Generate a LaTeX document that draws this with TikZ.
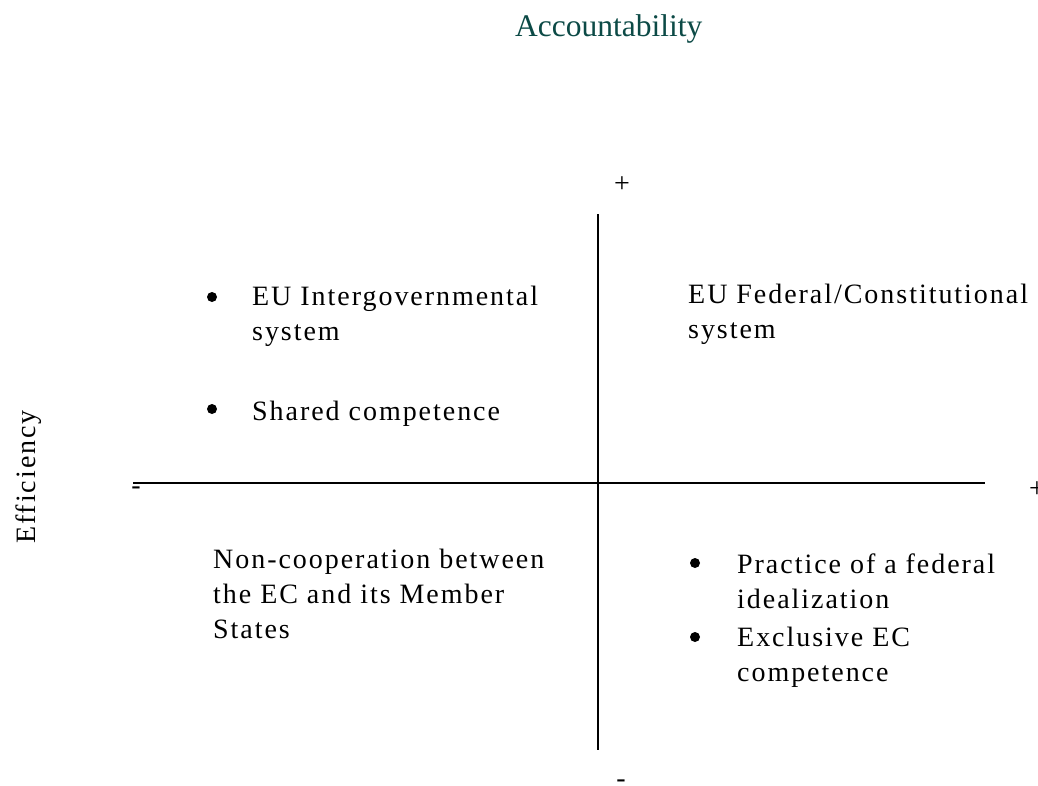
\documentclass[tikz,border=0pt]{standalone}
\usepackage{fontspec}
\newfontfamily\cellfont[LetterSpace=7]{Liberation Serif}
\newfontfamily\headfont{Liberation Serif}
\definecolor{headcolor}{RGB}{12,74,70}

\tikzset{
    axisline/.style={line width=1.5pt},
    cell/.style={font=\cellfont\fontsize{28}{35}\selectfont, inner sep=0pt, align=left, anchor=base west},
    sign/.style={font=\headfont\fontsize{28}{35}\selectfont, inner sep=0pt},
    bullet/.style={circle, fill, inner sep=0pt, minimum size=10pt}
}

\begin{document}
\begin{tikzpicture}[x=1pt, y=-1pt]
    \useasboundingbox (0,0) rectangle (1038,785);
    \coordinate (top) at (598,214);
    \coordinate (bottom) at (598,750);
    \coordinate (left) at (133,483);
    \coordinate (right) at (985,483);

    \draw[axisline] (top)--(bottom);
    \draw[axisline] (left)--(right);

    \node[sign] (plustop) at (622,185) {+};
    \node[sign] (minusbottom) at (621,784) {-};
    \node[sign] (minusleft) at (136,491) {-};
    \node[sign] (plusright) at (1037,490) {+};

    \node[headcolor, font=\headfont\fontsize{31.5}{36}\selectfont, inner sep=0pt, anchor=base west] (title) at (515,36) {Accountability};
    \node[font=\cellfont\fontsize{28}{35}\selectfont, inner sep=0pt, rotate=90] (efficiency) at (29,477) {Efficiency};

    % upper left (base is the last line)
    \node[bullet] (ul1) at (212,297) {};
    \node[cell] (ultext1) at (252,340) {EU Intergovernmental\\system};
    \node[bullet] (ul2) at (212,409) {};
    \node[cell] (ultext2) at (252,420) {Shared competence};

    % upper right
    \node[cell] (urtext) at (688,338) {EU Federal/Constitutional\\system};

    % lower left
    \node[cell] (lltext) at (213,638) {Non-cooperation between\\the EC and its Member\\States};

    % lower right
    \node[bullet] (lr1) at (695,563) {};
    \node[cell] (lrtext1) at (737,608) {Practice of a federal\\idealization};
    \node[bullet] (lr2) at (695,637) {};
    \node[cell] (lrtext2) at (737,681) {Exclusive EC\\competence};
\end{tikzpicture}
\end{document}
